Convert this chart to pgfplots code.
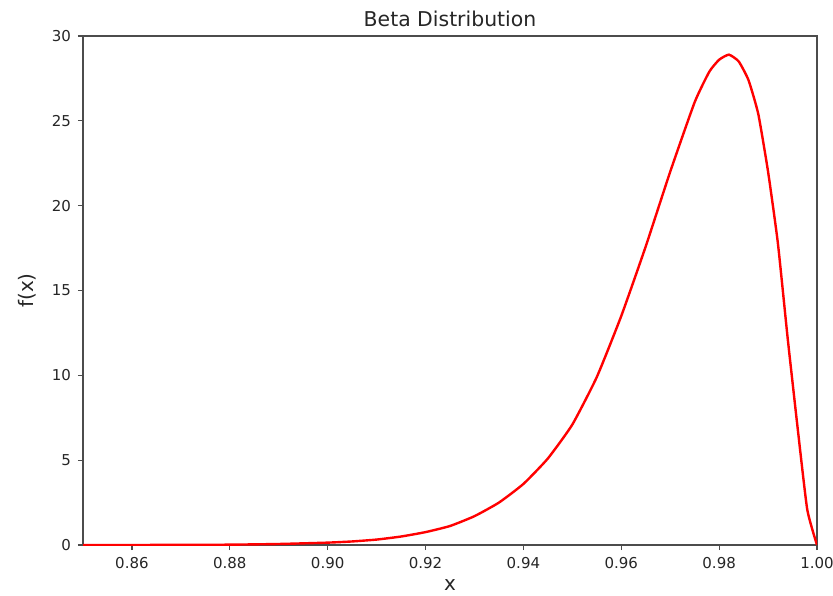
\documentclass[border=0pt]{standalone}
\usepackage{fontspec}
\setmainfont{DejaVu Sans}
\usepackage{pgfplots}
\pgfplotsset{compat=1.18}

\begin{document}
\begin{tikzpicture}
  % page frame: 833x595 px at 0.5pt per px, axis box at the origin
  \useasboundingbox (-41.5pt,-25pt) rectangle (375pt,272.5pt);
  \begin{axis}[
      at={(0pt,0pt)}, anchor=south west,
      scale only axis,
      width=367pt,
      height=254.5pt,
      xmin=0.85, xmax=1.00,
      ymin=0, ymax=30,
      xtick={0.86,0.88,0.90,0.92,0.94,0.96,0.98,1.00},
      ytick={0,5,10,15,20,25,30},
      xticklabel style={/pgf/number format/fixed, /pgf/number format/fixed zerofill, /pgf/number format/precision=2},
      /pgf/number format/assume math mode=true,
      tick align=outside,
      xtick pos=bottom, ytick pos=left,
      major tick length=2.5pt,
      tick style={black!70, line width=0.6pt},
      axis line style={black!70, line width=0.7pt},
      ticklabel style={font=\fontsize{7.5}{9}\selectfont, text=black!85},
      title={Beta Distribution},
      every axis title shift=0pt,
      title style={at={(axis description cs:0.5,1)}, anchor=base, yshift=4.5pt, font=\fontsize{10.2}{12}\selectfont, text=black!85},
      xlabel={x},
      xlabel style={at={(axis description cs:0.5,0)}, anchor=base, yshift=-22.5pt, font=\fontsize{10}{12}\selectfont, text=black!85},
      ylabel={f(x)},
      ylabel style={at={(axis description cs:-0.0668,0.5)}, anchor=base, font=\fontsize{10}{12}\selectfont, text=black!85},
  ]
  \addplot[red, line width=1.2pt, smooth, tension=0.3] coordinates {
      (0.850, 0.00)
      (0.860, 0.00)
      (0.870, 0.01)
      (0.880, 0.02)
      (0.890, 0.06)
      (0.900, 0.14)
      (0.905, 0.21)
      (0.910, 0.32)
      (0.915, 0.50)
      (0.920, 0.76)
      (0.925, 1.12)
      (0.930, 1.70)
      (0.935, 2.50)
      (0.940, 3.60)
      (0.945, 5.10)
      (0.950, 7.10)
      (0.955, 9.90)
      (0.960, 13.50)
      (0.965, 17.60)
      (0.970, 22.00)
      (0.975, 26.10)
      (0.978, 27.90)
      (0.980, 28.60)
      (0.982, 28.90)
      (0.984, 28.50)
      (0.986, 27.40)
      (0.988, 25.40)
      (0.990, 22.00)
      (0.992, 17.80)
      (0.994, 12.20)
      (0.996, 7.00)
      (0.998, 2.10)
      (1.000, 0.00)
  };
  \end{axis}
\end{tikzpicture}
\end{document}
